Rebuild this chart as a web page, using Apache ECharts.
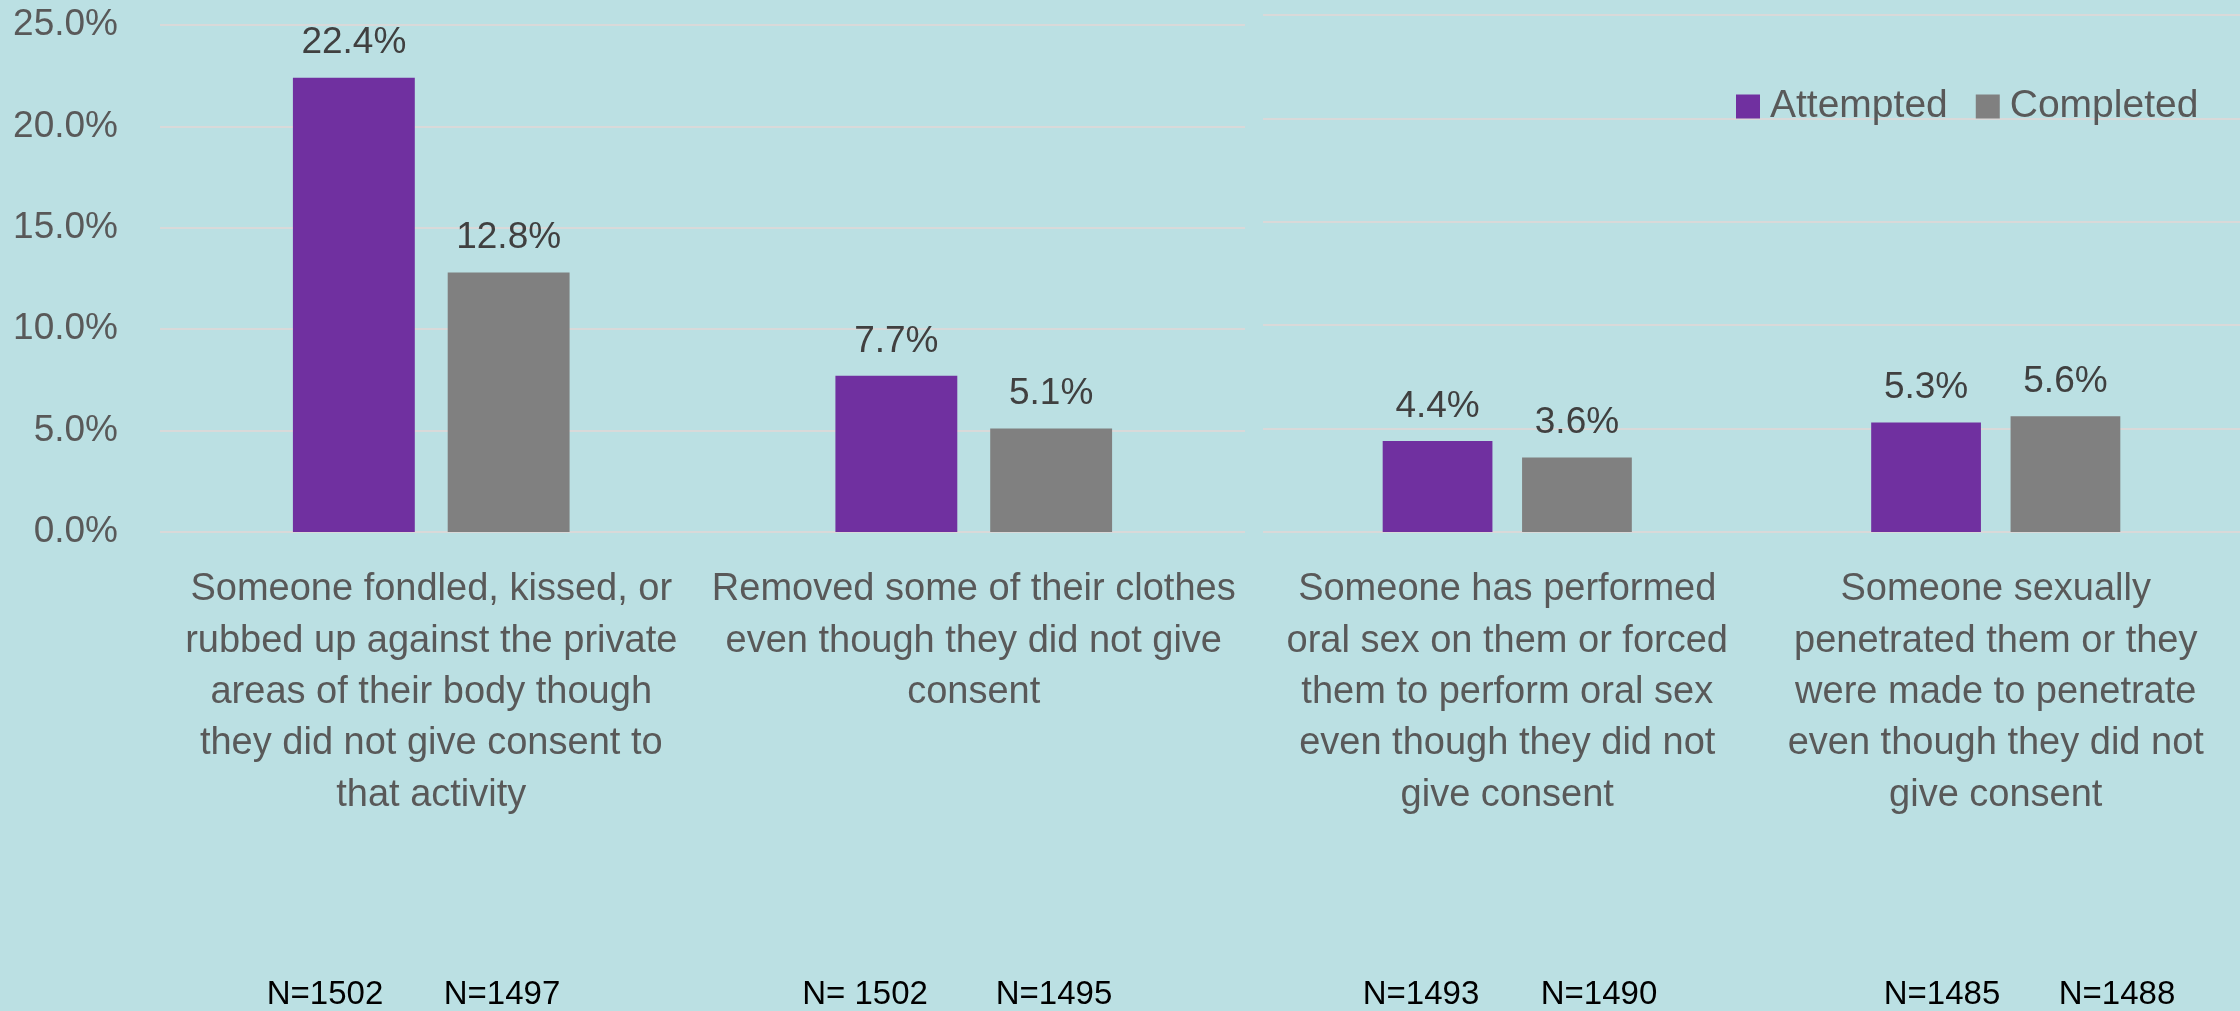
<!DOCTYPE html>
<html>
<head>
<meta charset="utf-8">
<script src="https://cdn.jsdelivr.net/npm/echarts@6/dist/echarts.min.js"></script>
<style>
html,body{margin:0;padding:0;background:#BBE0E3;}
#chart{width:2240px;height:1011px;}
</style>
</head>
<body>
<div id="chart"></div>
<script>
// ---- data ----
const categoriesLeft = [
  'Someone fondled, kissed, or\nrubbed up against the private\nareas of their body though\nthey did not give consent to\nthat activity',
  'Removed some of their clothes\neven though they did not give\nconsent'
];
const categoriesRight = [
  'Someone has performed\noral sex on them or forced\nthem to perform oral sex\neven though they did not\ngive consent',
  'Someone sexually\npenetrated them or they\nwere made to penetrate\neven though they did not\ngive consent'
];
const attemptedLeft = [22.4, 7.7];
const completedLeft = [12.8, 5.1];
const attemptedRight = [4.4, 5.3];
const completedRight = [3.6, 5.6];
const yTicks = [0, 5, 10, 15, 20, 25];
const nAttempted = ['N=1502', 'N= 1502', 'N=1493', 'N=1485'];
const nCompleted = ['N=1497', 'N=1495', 'N=1490', 'N=1488'];

// ---- style ----
const FONT = 'Liberation Sans';
const PURPLE = '#7030A0';
const GRAY = '#808080';
const GRID = '#D9D9D9';

const chart = echarts.init(document.getElementById('chart'), null, {renderer: 'canvas'});

function yAxis(gridIndex, showLabels) {
  return {
    type: 'value', gridIndex: gridIndex,
    min: yTicks[0], max: yTicks[yTicks.length - 1], interval: yTicks[1] - yTicks[0],
    axisLine: {show: false}, axisTick: {show: false},
    splitLine: {show: true, lineStyle: {color: GRID, width: 2}},
    axisLabel: {
      show: showLabels, fontFamily: FONT, fontSize: 37, color: '#595959', margin: 42,
      formatter: v => v.toFixed(1) + '%'
    }
  };
}
function xAxis(gridIndex, cats) {
  return {
    type: 'category', gridIndex: gridIndex, data: cats,
    axisLine: {show: false}, axisTick: {show: false},
    axisLabel: {
      interval: 0, fontFamily: FONT, fontSize: 38, lineHeight: 51.4,
      color: '#595959', margin: 32, align: 'center'
    }
  };
}
const dataLabel = {
  show: true, position: 'top', distance: 16,
  fontFamily: FONT, fontSize: 37, color: '#404040',
  formatter: p => p.value.toFixed(1) + '%'
};
function bar(name, color, xi, yi, data) {
  return {
    name: name, type: 'bar', xAxisIndex: xi, yAxisIndex: yi, data: data,
    barGap: '27%', barCategoryGap: '49%',
    itemStyle: {color: color},
    label: dataLabel
  };
}

const nX = [325, 502, 865, 1054, 1421, 1599, 1942, 2117];
const nTexts = [];
for (let i = 0; i < nAttempted.length; i++) { nTexts.push(nAttempted[i], nCompleted[i]); }

const option = {
  backgroundColor: '#BBE0E3',
  animation: false,
  grid: [
    {left: 160, right: 995, top: 25, bottom: 479, containLabel: false},
    {left: 1263, right: 0, top: 15, bottom: 479, containLabel: false}
  ],
  xAxis: [xAxis(0, categoriesLeft), xAxis(1, categoriesRight)],
  yAxis: [yAxis(0, true), yAxis(1, false)],
  legend: {
    data: ['Attempted', 'Completed'],
    left: 1731, top: 82, itemWidth: 24, itemHeight: 24, itemGap: 28,
    icon: 'rect',
    textStyle: {fontFamily: FONT, fontSize: 39, color: '#595959', padding: [0, 0, 0, 5]}
  },
  series: [
    bar('Attempted', PURPLE, 0, 0, attemptedLeft),
    bar('Completed', GRAY, 0, 0, completedLeft),
    bar('Attempted', PURPLE, 1, 1, attemptedRight),
    bar('Completed', GRAY, 1, 1, completedRight)
  ],
  graphic: nTexts.map((t, i) => ({
    type: 'text', x: nX[i], y: 995,
    style: {text: t, font: '33px "Liberation Sans"', fill: '#000000', textAlign: 'center', textVerticalAlign: 'middle'}
  }))
};
chart.setOption(option);
</script>
</body>
</html>
